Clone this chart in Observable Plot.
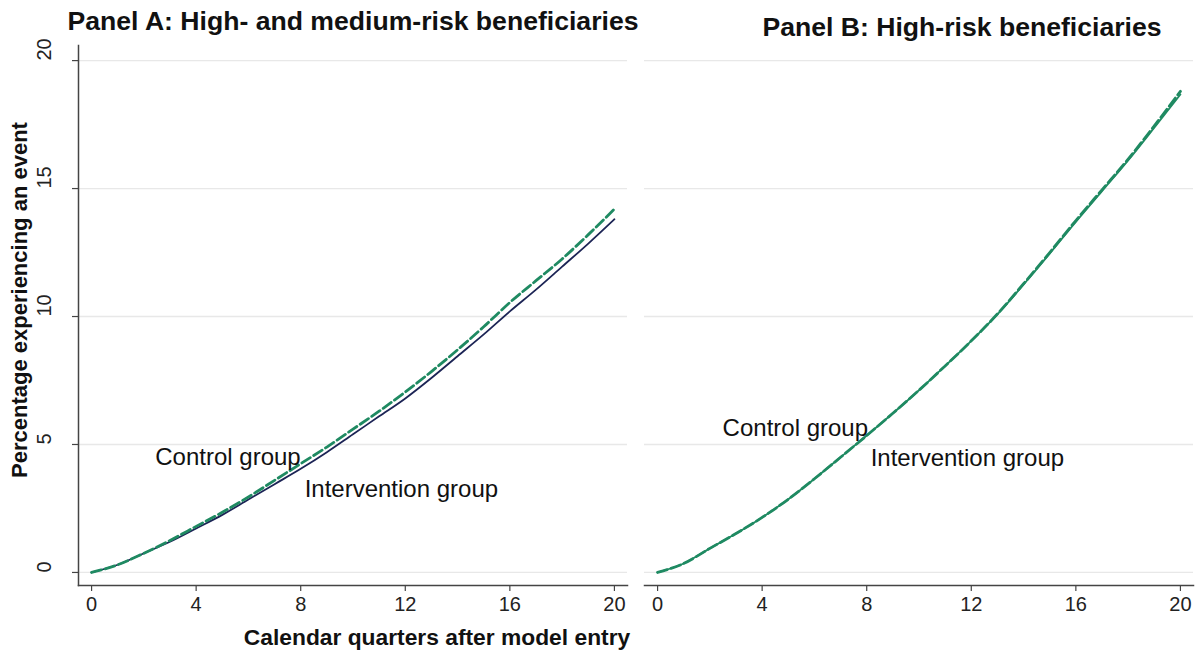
<!DOCTYPE html>
<html>
<head>
<meta charset="utf-8">
<script src="https://cdn.jsdelivr.net/npm/d3@7"></script>
<script src="https://cdn.jsdelivr.net/npm/@observablehq/plot@0.6"></script>
<style>
  html, body { margin: 0; padding: 0; background: #fff; }
  #wrap { position: relative; width: 1198px; height: 651px; overflow: hidden; font-family: "Liberation Sans", Arial, sans-serif; }
  .ttl { position: absolute; font-weight: bold; font-size: 26.6px; color: #111; white-space: nowrap; transform: translateX(-50%); line-height: 1; }
  .axt { position: absolute; font-weight: bold; color: #111; white-space: nowrap; line-height: 1; }
  .pnl { position: absolute; top: 0; }
</style>
</head>
<body>
<div id="wrap">
  <div class="ttl" id="tA" style="left:353px; top:8px;"></div>
  <div class="ttl" id="tB" style="left:962px; top:14px;"></div>
  <div class="axt" id="xt" style="left:437px; top:626px; font-size:22.8px; transform:translateX(-50%);"></div>
  <div class="axt" id="yt" style="left:20px; top:300px; font-size:22px; transform:translate(-50%,-50%) rotate(-90deg);"></div>
  <div class="pnl" id="pA" style="left:0px;"></div>
  <div class="pnl" id="pB" style="left:636px;"></div>
</div>
<script>
// ---- data ----
const panelTitles = ["Panel A: High- and medium-risk beneficiaries", "Panel B: High-risk beneficiaries"];
const xTitle = "Calendar quarters after model entry";
const yTitle = "Percentage experiencing an event";
const seriesNames = ["Control group", "Intervention group"];
const quarters = [0,1,2,3,4,5,6,7,8,9,10,11,12,13,14,15,16,17,18,19,20];
const xTicks = [0, 4, 8, 12, 16, 20];
const yTicks = [0, 5, 10, 15, 20];

// Panel A
const controlA      = [0,0.3,0.75,1.25,1.8,2.35,2.95,3.6,4.25,4.9,5.6,6.3,7.05,7.85,8.7,9.6,10.55,11.4,12.25,13.2,14.2];
const interventionA = [0,0.3,0.75,1.2,1.72,2.25,2.85,3.45,4.05,4.7,5.4,6.1,6.8,7.6,8.45,9.3,10.2,11.05,11.95,12.85,13.8];
// Panel B
const controlB      = [0,0.35,0.94,1.52,2.15,2.86,3.66,4.5,5.35,6.22,7.12,8.07,9.05,10.1,11.28,12.5,13.75,14.95,16.15,17.45,18.8];
const interventionB = [0,0.35,0.94,1.52,2.15,2.86,3.66,4.5,5.35,6.22,7.12,8.07,9.05,10.08,11.25,12.46,13.7,14.9,16.1,17.38,18.68];

// label annotations (data coordinates)
const labelXA = [8.0, 8.15], labelYA = [4.5, 3.25];
const labelXB = [8.05, 8.15], labelYB = [5.65, 4.45];

// ---- drawing ----
const green = "#1f8a62", navy = "#1c2455";
const yDomain = [-0.51, 20.59];
const xDomain = [-0.5, 20.5];

function toRows(vals) { return quarters.map((q, i) => ({q, v: vals[i]})); }

function panel({ctrl, intv, lx, ly, width, mL, mR, intvColor, showY}) {
  const labels = seriesNames.map((t, i) => ({t, x: lx[i], y: ly[i]}));
  const marks = [
    Plot.gridY(yTicks, {stroke: "#e8e8e8", strokeOpacity: 1, strokeWidth: 1.3}),
    Plot.axisX(xTicks, {tickSize: 6, tickPadding: 5, fontSize: 20, stroke: "#444", strokeWidth: 1.2, label: null, color: "#222"}),
    Plot.frame({anchor: "bottom", stroke: "#444", strokeWidth: 1.5}),
    Plot.line(toRows(intv), {x: "q", y: "v", stroke: intvColor, strokeWidth: 1.8, curve: "monotone-x"}),
    Plot.line(toRows(ctrl), {x: "q", y: "v", stroke: green, strokeWidth: 2.8, strokeDasharray: "10,4", curve: "monotone-x"}),
    Plot.text(labels.slice(0, 1), {x: "x", y: "y", text: "t", textAnchor: "end", fontSize: 24, fill: "#111"}),
    Plot.text(labels.slice(1, 2), {x: "x", y: "y", text: "t", textAnchor: "start", fontSize: 24, fill: "#111"})
  ];
  if (showY) {
    marks.push(Plot.frame({anchor: "left", stroke: "#444", strokeWidth: 1.5}));
    marks.push(Plot.axisY(yTicks, {tickSize: 6, tickFormat: () => "", stroke: "#444", strokeWidth: 1.2, label: null}));
    marks.push(Plot.text(yTicks, {y: d => d, text: d => String(d), frameAnchor: "left", dx: -34, rotate: -90, fontSize: 20, fill: "#222"}));
  }
  return Plot.plot({
    width, height: 651,
    marginLeft: mL, marginRight: mR, marginTop: 45, marginBottom: 66,
    style: {background: "none", fontFamily: "'Liberation Sans', Arial, sans-serif", overflow: "visible"},
    x: {domain: xDomain},
    y: {domain: yDomain, axis: showY ? undefined : null},
    marks
  });
}

document.getElementById("tA").textContent = panelTitles[0];
document.getElementById("tB").textContent = panelTitles[1];
document.getElementById("xt").textContent = xTitle;
document.getElementById("yt").textContent = yTitle;

document.getElementById("pA").appendChild(panel({ctrl: controlA, intv: interventionA, lx: labelXA, ly: labelYA, width: 636, mL: 78, mR: 9, intvColor: navy, showY: true}));
document.getElementById("pB").appendChild(panel({ctrl: controlB, intv: interventionB, lx: labelXB, ly: labelYB, width: 562, mL: 8, mR: 5, intvColor: green, showY: false}));
</script>
</body>
</html>
